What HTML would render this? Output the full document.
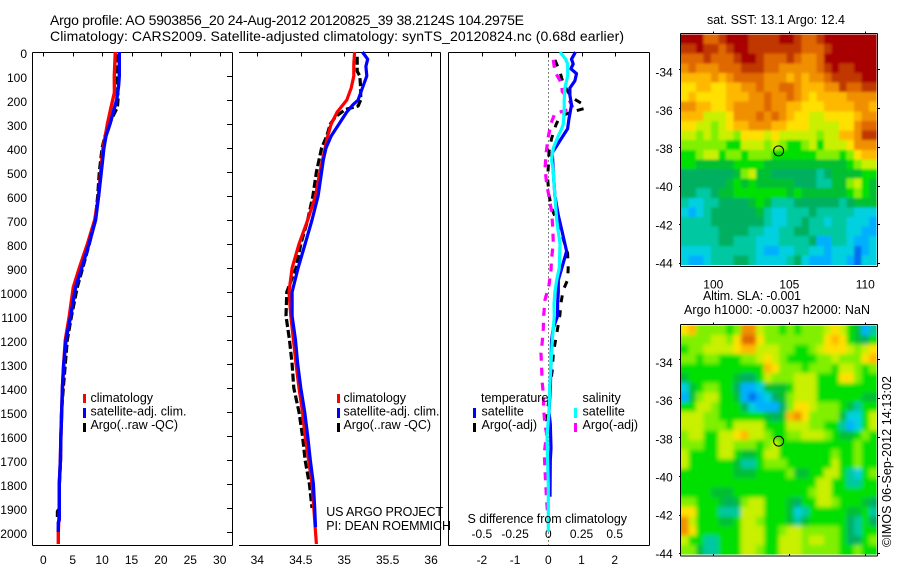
<!DOCTYPE html>
<html>
<head>
<meta charset="utf-8">
<title>Argo profile</title>
<style>
html,body{margin:0;padding:0;background:#fff;width:900px;height:580px;overflow:hidden}
svg{display:block}
text{font-family:"Liberation Sans",sans-serif;font-size:12px;fill:#000}
.title{font-size:14px}
.lg{font-size:12.5px}
</style>
</head>
<body>
<svg id="fig" width="900" height="580" viewBox="0 0 900 580" xmlns="http://www.w3.org/2000/svg">
<defs>
<filter id="sstBlur" filterUnits="userSpaceOnUse" x="650" y="0" width="250" height="300"><feGaussianBlur stdDeviation="1.2"/></filter>
<filter id="slaBlur" filterUnits="userSpaceOnUse" x="650" y="290" width="250" height="290"><feGaussianBlur stdDeviation="2.2"/></filter>
<clipPath id="sstClip"><rect x="681" y="34.5" width="195.6" height="230.5"/></clipPath>
<clipPath id="slaClip"><rect x="681" y="325.5" width="195.6" height="229"/></clipPath>
</defs>
<rect width="900" height="580" fill="#fff"/>
<text class="title" x="50" y="25" textLength="474">Argo profile: AO 5903856_20 24-Aug-2012 20120825_39 38.2124S 104.2975E</text>
<text class="title" x="50" y="41" textLength="574">Climatology: CARS2009. Satellite-adjusted climatology: synTS_20120824.nc (0.68d earlier)</text>
<g id="marks"></g>

<g>
<rect x="83" y="394" width="3" height="9" fill="#f00"/>
<rect x="83" y="408" width="3" height="10" fill="#00f"/>
<rect x="83" y="423" width="3" height="9" fill="#000"/>
<text class="lg" x="90.5" y="402">climatology</text>
<text class="lg" x="90.5" y="415.5" textLength="96">satellite-adj. clim.</text>
<text class="lg" x="90.5" y="429" textLength="87.5">Argo(..raw -QC)</text>
</g>
<g>
<rect x="337" y="394" width="3" height="9" fill="#f00"/>
<rect x="337" y="408" width="3" height="10" fill="#00f"/>
<rect x="337" y="423" width="3" height="9" fill="#000"/>
<text class="lg" x="343.5" y="402">climatology</text>
<text class="lg" x="343.5" y="415.5" textLength="96">satellite-adj. clim.</text>
<text class="lg" x="343.5" y="429" textLength="87.5">Argo(..raw -QC)</text>
</g>
<text class="lg" x="326.3" y="516" textLength="116.7">US ARGO PROJECT</text>
<text class="lg" x="326.3" y="530" textLength="124.7">PI: DEAN ROEMMICH</text>
<g>
<text class="lg" x="481" y="402">temperature</text>
<text class="lg" x="481.5" y="415.5">satellite</text>
<text class="lg" x="481.5" y="429">Argo(-adj)</text>
<rect x="473" y="408" width="3" height="10" fill="#00f"/>
<rect x="473" y="423" width="3" height="9" fill="#000"/>
<text class="lg" x="582.5" y="402">salinity</text>
<text class="lg" x="582.5" y="415.5">satellite</text>
<text class="lg" x="582.5" y="429">Argo(-adj)</text>
<rect x="574" y="408" width="3" height="10" fill="#0ff"/>
<rect x="574" y="423" width="3" height="9" fill="#f0f"/>
</g>
<text class="lg" x="467.5" y="523" textLength="159.5">S difference from climatology</text>
<text class="lg" x="707" y="24" textLength="138">sat. SST: 13.1 Argo: 12.4</text>
<text class="lg" x="703" y="300" textLength="98">Altim. SLA: -0.001</text>
<text class="lg" x="684" y="314" textLength="186">Argo h1000: -0.0037 h2000: NaN</text>
<text class="lg" transform="translate(891,547) rotate(-90)" textLength="171">©IMOS 06-Sep-2012 14:13:02</text>
</svg>
<script>
// ---------- axis ticks ----------
const depthTicks = [0,100,200,300,400,500,600,700,800,900,1000,1100,1200,1300,1400,1500,1600,1700,1800,1900,2000];
const tempTicks = [0,5,10,15,20,25,30];
const salTicks = [34,34.5,35,35.5,36];
const diffTempTicks = [-2,-1,0,1,2];
const diffSalTicks = [-0.5,-0.25,0,0.25,0.5];
const diffSalLabels = ['-0.5','-0.25','0','0.25','0.5'];
const lonTicks = [100,105,110];
const latTicks = [-34,-36,-38,-40,-42,-44];

// ---------- temperature profiles ----------
const tempClimDepth = [0,100,170,200,250,300,350,400,500,600,700,800,900,980,1100,1200,1300,1400,1500,1600,1700,1800,1900,2000,2050];
const tempClim = [12.25,12.07,12.1,11.8,11.34,10.9,10.55,10.15,9.76,9.4,8.74,7.5,6.13,5.1,4.42,3.75,3.47,3.25,3.13,3.0,2.9,2.72,2.72,2.55,2.55];
const tempSatDepth = [0,100,140,200,250,300,350,400,500,600,700,800,900,980,1100,1200,1300,1400,1500,1600,1700,1800,1950,1960,2000];
const tempSat = [12.93,12.93,12.8,12.48,11.9,11.34,10.66,10.3,9.87,9.4,8.9,7.77,6.53,5.5,4.66,3.86,3.47,3.25,3.13,3.0,2.9,2.72,2.72,2.55,2.55];
const tempArgoDepth = [10,60,100,200,230,300,350,400,500,600,700,800,900,980,1100,1200,1300,1400,1500,1600,1700,1800,1900,1915,1945];
const tempArgo = [12.48,12.48,12.6,12.7,12.6,11.2,10.5,10.0,9.53,9.25,8.85,7.82,6.7,5.78,4.8,4.08,3.75,3.4,3.1,3.0,2.95,2.72,2.7,2.4,2.4];

// ---------- salinity profiles ----------
const salClimDepth = [0,50,100,150,200,250,300,350,400,500,600,700,800,900,1000,1100,1200,1300,1400,1500,1600,1700,1800,1900,2000,2050];
const salClim = [35.12,35.11,35.11,35.08,35.03,34.92,34.85,34.81,34.78,34.72,34.67,34.58,34.48,34.40,34.365,34.385,34.415,34.445,34.48,34.52,34.55,34.59,34.63,34.65,34.67,34.68];
const salSatDepth = [0,30,60,100,150,200,220,250,300,350,400,450,500,600,700,800,900,1000,1100,1200,1300,1400,1500,1600,1700,1800,1900,1980];
const salSat = [35.21,35.27,35.25,35.26,35.21,35.16,35.1,35.03,34.94,34.85,34.79,34.76,34.74,34.70,34.63,34.55,34.47,34.40,34.40,34.44,34.465,34.5,34.545,34.58,34.61,34.645,34.66,34.67];
const salArgoDepth = [20,80,100,150,200,225,240,270,300,350,400,500,600,700,800,900,1000,1100,1200,1300,1400,1500,1600,1700,1800,1900];
const salArgo = [35.15,35.15,35.18,35.19,35.19,35.16,35.01,34.9,34.84,34.8,34.74,34.68,34.64,34.58,34.5,34.445,34.34,34.33,34.37,34.4,34.42,34.48,34.52,34.55,34.6,34.63];

// ---------- difference profiles ----------
const dTempSatDepth = [0,30,50,70,90,120,150,180,220,280,320,380,420,500,600,680,750,830,880,950,1000,1050,1100,1150,1200,1300,1400,1500,1550,1650,1700,1853];
const dTempSat = [0.82,0.7,0.75,0.68,0.85,0.8,0.65,0.65,0.7,0.62,0.58,0.3,0.12,0.15,0.2,0.3,0.42,0.55,0.45,0.3,0.3,0.28,0.28,0.15,0.1,0.08,0.06,0.02,0.06,0.08,0.06,0.05];
const dSalSatDepth = [0,30,50,100,150,200,250,300,320,350,400,450,500,600,700,800,900,950,1000,1050,1100,1200,1300,1400,1500,1600,1700,1800,1900,2000];
const dSalSat = [0.088,0.13,0.146,0.146,0.125,0.12,0.12,0.113,0.1,0.075,0.038,0.025,0.038,0.05,0.063,0.088,0.083,0.063,0.05,0.043,0.045,0.03,0.02,0.01,0.005,-0.01,-0.005,0,0,0];
const dTempArgoDepth = [33,82,131,172,193,214,235,244,267,304,360,415,478,526,596,651,735,811,839,901,950,992,1047,1096,1193,1256,1325,1367,1492,1554];
const dTempArgo = [0.2,0.35,0.45,0.62,0.75,1.0,1.1,0.85,0.35,0.23,0.1,0.02,0,-0.02,0.02,0.1,0.35,0.52,0.58,0.6,0.58,0.45,0.38,0.35,0.23,0.15,0.12,0.08,-0.02,-0.07];
const dSalArgoDepth = [33,82,131,165,193,235,256,297,353,415,485,547,603,665,728,797,860,908,971,1033,1096,1151,1193,1256,1325,1381,1422,1492,1554,1589,1672,1742,1867,1922];
const dSalArgo = [0.038,0.05,0.1,0.105,0.15,0.188,0.05,0.02,0,-0.015,-0.025,-0.013,0.005,0.025,0.033,0.038,0.025,0.02,0.005,-0.025,-0.035,-0.038,-0.043,-0.055,-0.05,-0.045,-0.038,-0.035,-0.025,-0.013,-0.03,-0.025,-0.013,-0.005];

// ---------- map fields (colour level per cell, north to south) ----------
const argoLon = 104.2975;
const argoLat = -38.2124;
const colorLevels = ['#0070f0','#00b0ff','#00d0e0','#00c8a0','#00b060','#00c030','#00e000','#80f000','#c8f000','#ffe000','#ffb800','#f09000','#e06800','#c03800','#a80000'];
const sstField = [
[14,14,14,12,12,13,14,14,14,13,13,13,13,14,14,13,12,12,13,14,14,14,14,14,14,14],
[13,13,14,13,13,12,13,14,14,13,13,13,13,13,13,13,12,12,12,13,14,14,14,14,14,14],
[12,12,12,13,12,12,12,13,14,14,13,12,12,12,13,12,11,11,12,14,14,14,14,14,14,14],
[11,12,11,11,11,12,12,12,13,13,13,12,12,11,11,11,11,11,12,13,14,13,13,14,14,14],
[10,10,10,10,11,10,11,12,12,12,12,11,11,11,10,11,10,11,11,12,13,13,13,13,14,14],
[9,9,10,10,9,9,10,10,11,11,12,11,11,12,12,11,10,10,10,11,11,13,12,12,13,13],
[9,10,9,9,9,9,10,10,10,11,11,12,11,11,12,11,10,9,10,10,10,10,11,11,11,11],
[11,11,10,10,9,9,10,11,11,11,11,12,11,11,10,10,9,9,9,10,10,10,10,11,11,10],
[10,10,10,8,8,8,9,11,11,11,12,11,12,11,10,9,9,8,8,9,9,9,9,10,11,11],
[9,9,8,8,7,8,9,10,10,11,11,11,10,10,9,9,9,8,8,8,8,9,9,11,12,12],
[8,8,7,8,7,8,8,7,9,9,9,8,9,8,8,8,8,8,7,8,8,10,10,11,13,13],
[7,7,7,7,7,7,6,6,8,8,8,7,8,7,6,6,7,8,6,8,8,8,9,11,11,11],
[6,6,7,8,8,6,7,7,6,7,7,7,6,6,6,6,6,6,7,7,7,6,7,9,10,10],
[6,6,5,5,5,5,5,6,6,6,6,5,5,5,5,5,5,5,5,5,5,5,6,7,8,8],
[4,4,4,4,4,4,4,5,7,8,5,5,4,4,4,4,4,4,3,4,5,5,5,5,6,6],
[4,4,4,4,4,4,5,6,5,6,5,5,5,5,5,4,4,4,3,3,5,5,7,8,6,5],
[4,4,3,3,4,5,5,6,6,6,6,6,6,6,5,6,5,5,5,5,5,5,6,7,6,5],
[3,2,2,3,3,4,4,4,4,5,6,5,3,3,3,4,4,4,4,4,4,3,4,5,5,5],
[2,1,2,3,4,4,4,4,4,4,5,3,2,2,3,3,3,4,3,3,3,3,3,2,2,2],
[3,3,3,3,4,4,4,4,4,4,4,3,2,2,3,3,4,3,3,2,3,3,2,2,2,1],
[3,3,3,3,3,4,4,4,4,3,3,2,2,3,3,4,4,3,3,3,3,3,2,2,1,1],
[3,3,3,3,3,4,4,3,3,3,2,2,2,3,3,3,3,4,1,1,3,3,2,1,1,2],
[2,2,2,2,3,3,3,3,3,3,2,1,1,2,2,3,3,2,2,1,2,2,2,0,1,2],
[2,1,1,2,3,3,3,4,4,3,2,2,2,2,3,4,2,1,1,1,2,2,1,0,2,2]
];
const slaField = [
[9,10,7,7,7,7,6,7,11,11,8,7,7,6,7,6,7,7,7,8,9,8,6,5,1,3],
[7,7,7,7,8,8,7,9,12,12,9,7,7,7,7,7,7,7,7,9,10,9,6,5,4,6],
[6,7,7,8,8,8,8,9,10,10,8,8,8,7,7,6,6,7,8,9,9,9,8,7,8,9],
[7,7,6,7,7,6,6,6,7,7,8,9,8,7,6,6,6,6,7,7,8,7,7,7,9,10],
[6,6,6,6,6,6,6,6,6,6,6,10,9,7,7,7,6,7,7,7,6,8,8,7,6,7],
[5,6,6,6,6,6,6,5,4,4,6,8,7,7,7,8,8,8,6,6,6,9,9,7,6,6],
[2,5,6,7,7,6,6,4,1,1,2,5,5,5,6,8,8,8,6,6,6,6,6,6,6,6],
[1,5,7,8,8,6,6,5,1,0,1,2,4,5,7,8,8,8,6,6,6,6,6,6,5,5],
[6,6,8,8,7,6,6,6,4,2,1,1,1,4,7,9,9,8,7,7,7,6,5,3,6,6],
[8,8,8,7,7,6,6,6,6,6,6,5,4,5,10,11,9,7,7,7,7,5,2,2,6,8],
[8,8,8,7,7,7,6,8,8,8,8,6,6,6,8,8,8,7,7,6,6,3,1,2,6,8],
[7,8,8,6,6,8,8,9,10,8,8,7,6,6,7,7,8,8,8,7,6,5,5,6,7,6],
[7,7,7,6,6,8,8,7,7,7,6,7,8,6,6,6,6,6,6,6,6,6,6,7,6,6],
[8,6,6,6,6,8,8,6,5,5,6,8,8,6,6,6,6,6,6,6,7,6,6,7,6,6],
[8,6,6,6,6,6,6,5,3,3,6,7,7,7,6,6,6,6,6,6,8,6,6,7,6,6],
[6,6,6,6,6,6,6,5,5,5,6,6,6,6,7,5,5,6,6,8,8,6,3,2,6,7],
[6,6,6,6,6,6,6,6,6,6,6,6,6,6,6,6,6,6,8,8,6,6,3,3,6,6],
[6,6,6,6,5,5,5,6,6,6,6,6,6,6,6,6,6,7,8,8,6,6,6,6,6,6],
[7,7,6,6,6,5,4,5,7,8,8,6,6,6,5,4,6,6,8,8,7,6,6,6,5,4],
[9,9,6,6,6,3,3,3,8,8,8,6,6,6,5,2,3,6,6,6,6,6,5,5,6,3],
[11,8,6,6,6,5,5,6,8,8,7,6,6,6,5,3,5,6,6,6,6,6,4,3,6,4],
[11,9,6,6,6,6,6,6,8,8,8,6,6,7,8,8,7,7,7,7,7,6,4,3,6,6],
[8,6,6,3,3,6,6,6,8,8,8,6,6,8,8,8,7,8,8,7,7,6,4,4,6,7],
[7,7,5,3,3,6,6,6,8,8,7,6,6,8,8,8,7,7,7,7,7,6,6,7,6,6]
];

// ---------- scales ----------
const NS = 'http://www.w3.org/2000/svg';
const root = document.getElementById('marks');
const depthY = d => 52 + 0.24 * d;
const tempX = v => 43.3 + 5.88 * v;
const salX = v => 257.3 + 86.9 * (v - 34);
const dTempX = v => 548.3 + 33.2 * v;
const dSalX = v => 548.3 + 132.8 * v;
const lonX = v => 713.3 + 15.2 * (v - 100);

function node(tag, name, attrs, parent) {
  const el = document.createElementNS(NS, tag);
  
  
  for (const k in attrs) el.setAttribute(k, attrs[k]);
  (parent || root).appendChild(el);
  return el;
}
function line(name, x1, y1, x2, y2, w) {
  return node('line', name, {x1, y1, x2, y2, stroke: '#000', 'stroke-width': w || 1, 'shape-rendering': 'crispEdges'});
}
function label(name, x, y, str, anchor) {
  const t = node('text', name, {x, y, 'text-anchor': anchor || 'middle'});
  t.textContent = str;
  return t;
}
function profile(name, depths, values, xf, color, width, dash) {
  const pts = depths.map((d, i) => xf(values[i]).toFixed(1) + ',' + depthY(d).toFixed(1)).join(' ');
  const attrs = {points: pts, fill: 'none', stroke: color, 'stroke-width': width, 'stroke-linejoin': 'round'};
  if (dash) attrs['stroke-dasharray'] = dash;
  return node('polyline', name, attrs);
}

// ---------- panel frames ----------
const B = 545.5, T = 52.5;
// temperature panel
line('temp-panel-left-axis', 32.5, T, 32.5, B);
line('temp-panel-right-axis', 232.5, T, 232.5, B);
line('temp-panel-top-axis', 32.5, T, 232.5, T);
line('temp-panel-bottom-axis', 32.5, B, 232.5, B);
depthTicks.forEach(d => {
  const y = Math.round(depthY(d)) + 0.5;
  line('depth-tick', 227, y, 232.5, y);
  label('depth-tick-label', 27, depthY(d) + 6, String(d), 'end');
});
tempTicks.forEach(v => {
  const x = Math.round(tempX(v)) + 0.5;
  line('temp-tick', x, T, x, T + 4);
  label('temp-tick-label', tempX(v), 564, String(v));
});
// salinity panel
line('sal-panel-right-axis', 440.5, T, 440.5, B);
line('sal-panel-top-axis', 239, T, 440.5, T);
line('sal-panel-bottom-axis', 239, B, 440.5, B);
salTicks.forEach(v => {
  const x = Math.round(salX(v)) + 0.5;
  line('sal-tick', x, T, x, T + 4);
  label('sal-tick-label', salX(v), 564, String(v));
});
// difference panel
line('diff-panel-left-axis', 448.5, T, 448.5, B);
line('diff-panel-right-axis', 649.5, T, 649.5, B);
line('diff-panel-top-axis', 448.5, T, 649.5, T);
line('diff-panel-bottom-axis', 448.5, B, 649.5, B);
diffTempTicks.forEach(v => {
  const x = Math.round(dTempX(v)) + 0.5;
  line('diff-temp-tick', x, T, x, T + 4);
  label('diff-temp-tick-label', dTempX(v), 564, String(v));
});
diffSalTicks.forEach((v, i) => {
  label('diff-sal-tick-label', dSalX(v), 538, diffSalLabels[i]);
});
node('line', 'zero-difference-line', {x1: 548.5, y1: T, x2: 548.5, y2: depthY(2055), stroke: '#000', 'stroke-width': 1, 'stroke-dasharray': '1 3', 'shape-rendering': 'crispEdges'});

// ---------- series ----------
profile('temp-argo-line', tempArgoDepth, tempArgo, tempX, '#000', 3.2, '8 3');
profile('temp-climatology-line', tempClimDepth, tempClim, tempX, '#f00', 3.4);
profile('temp-satellite-line', tempSatDepth, tempSat, tempX, '#00f', 3.4);

profile('sal-argo-line', salArgoDepth, salArgo, salX, '#000', 3.2, '8 3');
profile('sal-climatology-line', salClimDepth, salClim, salX, '#f00', 3.2);
profile('sal-satellite-line', salSatDepth, salSat, salX, '#00f', 3.2);

profile('diff-temp-argo-line', dTempArgoDepth, dTempArgo, dTempX, '#000', 3, '7 8');
profile('diff-sal-argo-line', dSalArgoDepth, dSalArgo, dSalX, '#f0f', 3.2, '8 7');
profile('diff-temp-satellite-line', dTempSatDepth, dTempSat, dTempX, '#00f', 3.2);
profile('diff-sal-satellite-line', dSalSatDepth, dSalSat, dSalX, '#0ff', 3.2);

// ---------- maps ----------
function drawMap(prefix, field, top, bottom, tick38, bottomTicks, lonLabels, filterId, clipId) {
  const L = 681, R = 876.6;
  const latY = v => tick38 + (-38 - v) * 19.4;
  const rows = field.length, cols = field[0].length;
  const cw = (R - L) / cols, ch = (bottom - top) / rows;
  const pad = 12;
  const cells = node('g', prefix + '-cells', {filter: 'url(#' + filterId + ')', 'clip-path': 'url(#' + clipId + ')'});
  field.forEach((row, r) => row.forEach((lvl, c) => {
    // border cells reach past the clip so the smoothing keeps their colour at the edge
    const x0 = L + c * cw - (c === 0 ? pad : 0);
    const x1 = L + (c + 1) * cw + (c === cols - 1 ? pad : 0.4);
    const y0 = top + r * ch - (r === 0 ? pad : 0);
    const y1 = top + (r + 1) * ch + (r === rows - 1 ? pad : 0.4);
    node('rect', prefix + '-cell', {
      x: x0.toFixed(2), y: y0.toFixed(2),
      width: (x1 - x0).toFixed(2), height: (y1 - y0).toFixed(2),
      fill: colorLevels[lvl], 'shape-rendering': 'crispEdges'
    }, cells);
  }));
  const ft = top - 1, fb = bottom + 1.5;
  line(prefix + '-frame-left', 680.5, ft, 680.5, fb);
  line(prefix + '-frame-right', 877.5, ft, 877.5, fb);
  line(prefix + '-frame-top', 680.5, ft, 877.5, ft);
  line(prefix + '-frame-bottom', 680.5, fb, 877.5, fb);
  latTicks.forEach(v => {
    const y = Math.round(latY(v)) + 0.5;
    line(prefix + '-lat-tick-left', 679, y, 680.5, y);
    line(prefix + '-lat-tick-right', 877.5, y, 880, y);
    label(prefix + '-lat-label', 672.7, latY(v) + 4.5 + (v + 44) * 0.3, String(v), 'end');
  });
  lonTicks.forEach(v => {
    const x = Math.round(lonX(v)) + 0.5;
    line(prefix + '-lon-tick-top', x, ft - 2, x, ft);
    if (bottomTicks) line(prefix + '-lon-tick-bottom', x, fb - 2, x, fb);
    if (lonLabels) label(prefix + '-lon-label', lonX(v), fb + 22, String(v));
  });
  node('circle', prefix + '-argo-position', {cx: lonX(argoLon), cy: latY(argoLat), r: 5, fill: 'none', stroke: '#000', 'stroke-width': 1});
}
drawMap('sst-map', sstField, 34.5, 265, 146.7, false, true, 'sstBlur', 'sstClip');
drawMap('sla-map', slaField, 325.5, 554.5, 437, true, false, 'slaBlur', 'slaClip');
</script>
</body>
</html>
